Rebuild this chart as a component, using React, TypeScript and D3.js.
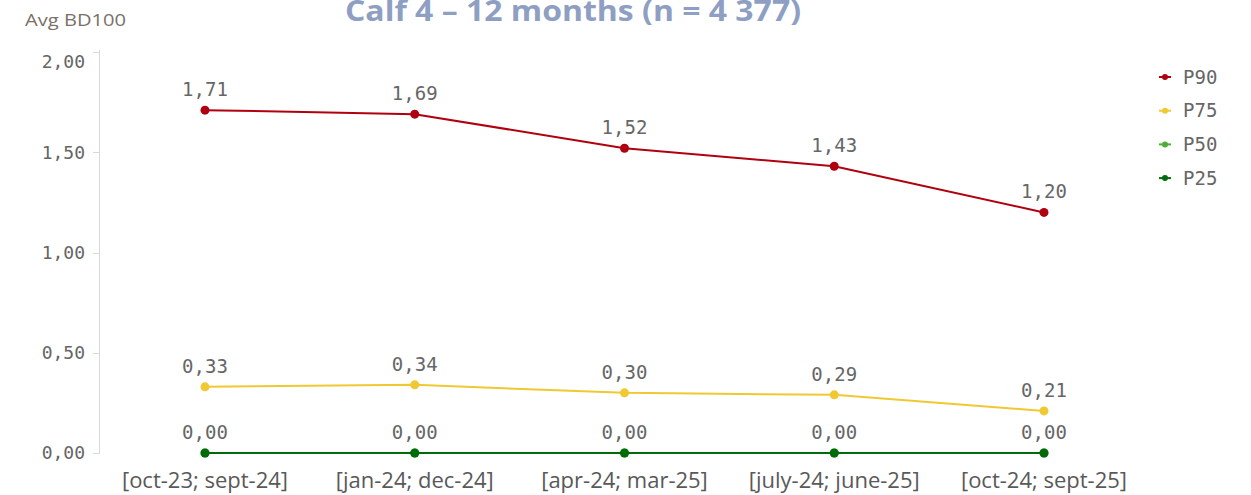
import React from "react";
import * as d3 from "d3";

const categories = ["[oct-23; sept-24]", "[jan-24; dec-24]", "[apr-24; mar-25]", "[july-24; june-25]", "[oct-24; sept-25]"];
const seriesNames = ["P90", "P75", "P50", "P25"];
const seriesColors = ["#b0000f", "#f0c832", "#4caf37", "#006b0a"];
const p90 = [1.71, 1.69, 1.52, 1.43, 1.2];
const p75 = [0.33, 0.34, 0.3, 0.29, 0.21];
const p50 = [0, 0, 0, 0, 0];
const p25 = [0, 0, 0, 0, 0];
const yTicks = [0, 0.5, 1, 1.5, 2];
const title = "Calf 4 – 12 months (n = 4 377)";
const yTitle = "Avg BD100";

const W = 1251, H = 495;
const fmt = (v: number) => v.toFixed(2).replace(".", ",");

export default function App() {
  const series = [p90, p75, p50, p25];
  const x = d3.scalePoint<string>().domain(categories).range([205, 1044]);
  const y = d3.scaleLinear().domain([0, 2]).range([453, 52]);
  const line = d3.line<number>().x((_, i) => x(categories[i])!).y((d) => y(d));
  const mono = "'DejaVu Sans Mono', monospace";
  return (
    <svg width={W} height={H} style={{ position: "absolute", left: 0, top: 0, display: "block", background: "#fff" }}>
      <text x={573} y={21} textAnchor="middle" fontFamily="'Open Sans', sans-serif" fontWeight="bold" fontSize={29} fill="#8e9fc3" textLength={456} lengthAdjust="spacingAndGlyphs">{title}</text>
      <text x={25} y={26} fontFamily="'Open Sans', sans-serif" fontSize={17} fill="#7a7068" textLength={101} lengthAdjust="spacingAndGlyphs">{yTitle}</text>
      <line x1={99.5} x2={99.5} y1={50} y2={453.5} stroke="#d9d9d9" strokeWidth={1} />
      {yTicks.map((t) => (
        <g key={t}>
          <line x1={93} x2={99.5} y1={Math.round(y(t)) + 0.5} y2={Math.round(y(t)) + 0.5} stroke="#d9d9d9" />
          <text x={85} y={y(t) + (t === 2 ? 10 : 0)} dy="0.35em" textAnchor="end" fontFamily={mono} fontSize={18} fill="#656565">{fmt(t)}</text>
        </g>
      ))}
      {categories.map((c) => (
        <text key={c} x={x(c)} y={488} textAnchor="middle" fontFamily="'Open Sans', sans-serif" fontSize={22} fill="#595959">{c}</text>
      ))}
      {series.map((s, si) => (
        <g key={seriesNames[si]}>
          <path d={line(s)!} fill="none" stroke={seriesColors[si]} strokeWidth={2} />
          {s.map((v, i) => (
            <circle key={i} cx={x(categories[i])} cy={y(v)} r={4.5} fill={seriesColors[si]} />
          ))}
        </g>
      ))}
      {series.map((s, si) =>
        si === 2 ? null : s.map((v, i) => (
          <text key={seriesNames[si] + i} x={x(categories[i])} y={y(v) - 14} textAnchor="middle" fontFamily={mono} fontSize={19} fill="#666">{fmt(v)}</text>
        ))
      )}
      {seriesNames.map((n, i) => (
        <g key={n} transform={`translate(0,${77 + i * 33.7})`}>
          <line x1={1159} x2={1171} y1={0} y2={0} stroke={seriesColors[i]} strokeWidth={2} />
          <circle cx={1165} cy={0} r={3} fill={seriesColors[i]} />
          <text x={1183} y={0} dy="0.35em" fontFamily={mono} fontSize={19} fill="#666">{n}</text>
        </g>
      ))}
    </svg>
  );
}
